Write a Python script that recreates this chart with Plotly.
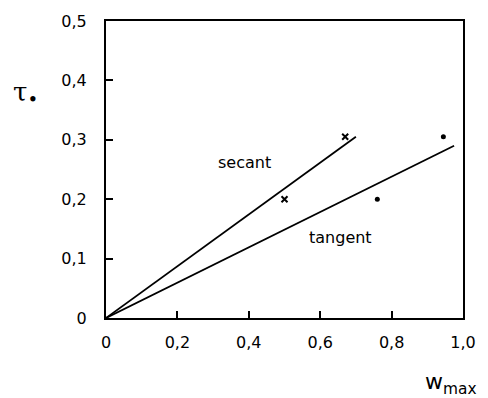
import plotly.graph_objects as go

# data
secant_pts_x = [0.50, 0.67]
secant_pts_y = [0.20, 0.305]
tangent_pts_x = [0.76, 0.945]
tangent_pts_y = [0.20, 0.305]
secant_line_x = [0.0, 0.70]
secant_line_y = [0.0, 0.305]
tangent_line_x = [0.0, 0.975]
tangent_line_y = [0.0, 0.29]
x_ticks = [0, 0.2, 0.4, 0.6, 0.8, 1.0]
x_ticktext = ["0", "0,2", "0,4", "0,6", "0,8", "1,0"]
y_ticks = [0, 0.1, 0.2, 0.3, 0.4, 0.5]
y_ticktext = ["0", "0,1", "0,2", "0,3", "0,4", "0,5"]

FONT = "DejaVu Sans"

fig = go.Figure()
fig.add_trace(go.Scatter(x=secant_line_x, y=secant_line_y, mode="lines",
                         line=dict(color="black", width=1.8), showlegend=False))
fig.add_trace(go.Scatter(x=tangent_line_x, y=tangent_line_y, mode="lines",
                         line=dict(color="black", width=1.8), showlegend=False))
fig.add_trace(go.Scatter(x=secant_pts_x, y=secant_pts_y, mode="markers",
                         marker=dict(symbol="x-thin", size=6, color="black",
                                     line=dict(width=2, color="black")),
                         showlegend=False))
fig.add_trace(go.Scatter(x=tangent_pts_x, y=tangent_pts_y, mode="markers",
                         marker=dict(symbol="circle", size=5, color="black"),
                         showlegend=False))

fig.add_annotation(x=0.387, y=0.261, text="secant", showarrow=False,
                   font=dict(family=FONT, size=16, color="black"))
fig.add_annotation(x=0.657, y=0.135, text="tangent", showarrow=False,
                   font=dict(family=FONT, size=16, color="black"))
fig.add_annotation(xref="paper", yref="paper", x=-0.225, y=0.755,
                   xanchor="center", yanchor="middle",
                   text="τ<sub>•</sub>", showarrow=False,
                   font=dict(family="DejaVu Serif", size=26, color="black"))
fig.add_annotation(xref="paper", yref="paper", x=0.965, y=-0.22,
                   xanchor="center", yanchor="middle",
                   text="w<sub>max</sub>", showarrow=False,
                   font=dict(family=FONT, size=22, color="black"))

axis_common = dict(showline=True, mirror=True, linecolor="black", linewidth=2,
                   ticks="inside", ticklen=7, tickwidth=1.5, tickcolor="black",
                   showgrid=False, zeroline=False,
                   tickfont=dict(family=FONT, size=16, color="black"))
fig.update_xaxes(range=[0, 1.0], tickvals=x_ticks, ticktext=x_ticktext,
                 ticklabelstandoff=9, **axis_common)
fig.update_yaxes(range=[0, 0.5], tickvals=y_ticks, ticktext=y_ticktext,
                 ticklabelstandoff=14, **axis_common)

fig.update_layout(width=488, height=398, margin=dict(l=106, r=15, t=21, b=80),
                  plot_bgcolor="white", paper_bgcolor="white")
fig.write_html("out.html")
